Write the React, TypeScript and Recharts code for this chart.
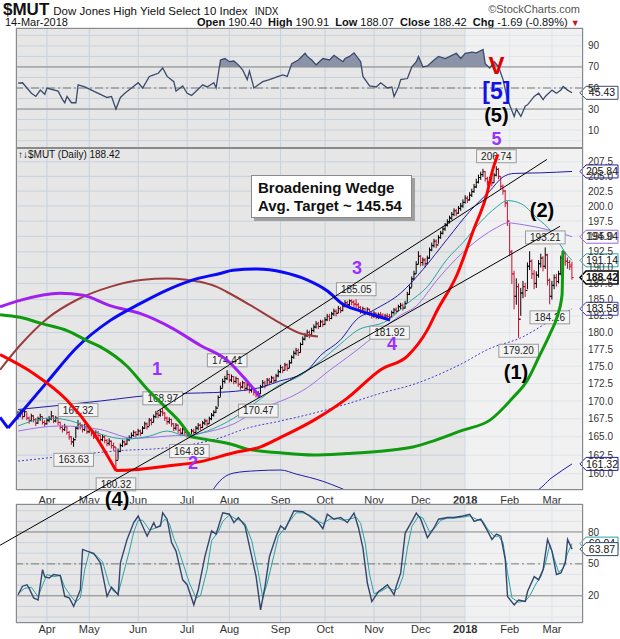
import React from 'react';
import {
  ComposedChart, Line, Area, Bar, XAxis, YAxis, CartesianGrid,
  ReferenceLine, ReferenceArea, ReferenceDot,
} from 'recharts';

const FONT = '"Liberation Sans", Arial, Helvetica, sans-serif';

// ---------- time axis (trading-day index, 0 = 15-Mar-2017) ----------
const MONTH_T = [13, 32, 54, 76, 95, 118, 138, 160, 181, 201, 221, 240];
const MONTH_LABELS = ['Apr', 'May', 'Jun', 'Jul', 'Aug', 'Sep', 'Oct', 'Nov', 'Dec', '2018', 'Feb', 'Mar'];
const YEAR_START_T = 201;
const X_PANEL: [number, number] = [-0.93, 253.93];
const X_OVER: [number, number] = [-8.13, 253.93];

// ---------- price (daily) ----------
const CLOSES = [
  168.0, 168.3, 167.8, 168.5, 167.6, 167.2, 167.9, 167.4, 166.9, 167.5,
  167.8, 167.0, 166.8, 167.3, 167.5, 167.9, 167.2, 167.6, 167.0, 166.3,
  166.0, 166.4, 165.6, 165.0, 164.3, 164.6, 166.2, 166.8, 166.5, 166.0,
  166.4, 165.7, 166.1, 165.5, 165.0, 165.6, 165.2, 164.6, 165.0, 164.5,
  164.1, 164.4, 163.8, 163.6, 161.8, 163.0, 163.8, 164.3, 164.0, 164.6,
  164.9, 165.2, 165.6, 165.3, 165.8, 165.5, 166.2, 166.8, 166.4, 167.3,
  167.0, 167.8, 168.2, 168.0, 168.5, 168.3, 167.6, 167.1, 167.4, 166.8,
  166.2, 166.6, 165.9, 165.5, 166.0, 165.6, 165.2, 165.3, 165.8, 165.6,
  166.2, 166.6, 166.3, 166.9, 167.2, 166.8, 167.5, 168.0, 168.4, 169.0,
  170.5, 171.8, 172.8, 173.2, 173.8, 173.0, 173.5, 172.8, 173.2, 172.4,
  172.0, 172.6, 171.8, 172.3, 171.5, 171.9, 171.2, 170.9, 171.0, 172.0,
  172.6, 172.2, 173.0, 172.7, 173.3, 172.9, 173.6, 174.2, 174.8, 174.4,
  175.2, 174.7, 175.5, 176.3, 176.9, 177.3, 177.0, 178.2, 179.0, 179.5,
  180.0, 179.6, 180.3, 180.8, 181.3, 180.9, 181.6, 181.2, 181.9, 182.4,
  182.1, 182.8, 183.2, 182.9, 183.6, 183.3, 184.0, 184.5, 184.2, 184.8,
  184.6, 184.3, 184.2, 183.8, 183.2, 183.6, 183.0, 183.5, 182.9, 182.5,
  182.9, 182.3, 182.7, 182.6, 182.2, 182.5, 182.4, 182.3, 183.0, 183.4,
  183.2, 183.9, 184.1, 183.7, 184.4, 185.8, 186.8, 188.2, 189.0, 190.5,
  191.8, 190.8, 191.2, 190.6, 191.5, 192.8, 193.5, 194.2, 193.6, 194.8,
  195.5, 196.2, 196.8, 197.4, 198.0, 198.6, 199.2, 198.8, 199.6, 200.0,
  200.6, 201.3, 201.0, 201.8, 202.4, 203.2, 204.0, 204.8, 205.3, 205.8,
  204.6, 204.0, 204.5, 203.9, 205.2, 206.2, 205.0, 203.3, 202.5, 200.5,
  197.5, 192.5, 189.0, 185.5, 187.0, 182.0, 186.0, 187.0, 186.4, 190.2,
  191.0, 189.0, 187.5, 188.8, 190.6, 191.5, 190.2, 192.0, 188.0, 185.5,
  187.2, 188.4, 187.8, 189.0, 191.5, 192.3, 191.0, 190.8, 190.11, 188.42,
];
const HIGHS = [
  168.6, 168.8, 168.5, 168.9, 168.4, 167.8, 168.2, 168.0, 167.6, 167.8,
  168.2, 167.9, 167.3, 167.6, 167.9, 168.6, 168.0, 167.9, 167.7, 167.1,
  166.6, 166.8, 166.5, 165.8, 165.1, 164.9, 166.5, 167.32, 167.0, 166.7,
  166.8, 166.5, 166.4, 166.2, 165.7, 165.9, 165.8, 165.3, 165.3, 165.2,
  164.7, 164.8, 164.5, 164.2, 163.6, 163.4, 164.1, 164.6, 164.5, 164.9,
  165.2, 165.6, 165.9, 165.8, 166.1, 166.0, 166.5, 167.1, 167.0, 167.6,
  167.6, 168.1, 168.6, 168.5, 168.8, 168.97, 168.4, 167.8, 167.7, 167.5,
  166.9, 166.9, 166.7, 166.2, 166.3, 166.2, 165.8, 165.6, 166.1, 166.1,
  166.5, 166.9, 166.8, 167.2, 167.5, 167.4, 167.8, 168.3, 168.7, 169.3,
  170.8, 172.2, 173.2, 173.6, 174.41, 173.9, 173.8, 173.6, 173.5, 173.3,
  172.7, 172.9, 172.7, 172.6, 172.4, 172.2, 172.0, 171.5, 171.4, 172.3,
  173.0, 172.9, 173.3, 173.3, 173.6, 173.5, 173.9, 174.5, 175.2, 175.0,
  175.5, 175.4, 175.9, 176.6, 177.3, 177.7, 177.6, 178.5, 179.4, 179.9,
  180.4, 180.3, 180.7, 181.2, 181.7, 181.6, 181.9, 181.9, 182.3, 182.8,
  182.8, 183.1, 183.6, 183.5, 184.0, 183.9, 184.3, 184.9, 184.8, 185.0,
  185.0, 184.9, 185.05, 184.5, 184.0, 183.9, 183.7, 183.8, 183.6, 183.2,
  183.2, 183.0, 183.0, 183.1, 182.9, 182.8, 182.9, 182.8, 183.3, 183.7,
  183.8, 184.2, 184.5, 184.4, 184.8, 186.2, 187.2, 188.6, 189.5, 191.0,
  192.6, 192.0, 191.6, 191.5, 191.9, 193.2, 194.0, 194.6, 194.5, 195.2,
  195.9, 196.6, 197.2, 197.8, 198.4, 199.0, 199.6, 199.5, 200.0, 200.5,
  201.1, 201.8, 201.7, 202.3, 202.9, 203.7, 204.6, 205.3, 205.8, 206.3,
  205.9, 204.9, 204.9, 204.8, 205.6, 206.74, 206.4, 205.0, 203.6, 202.7,
  200.8, 197.2, 192.8, 189.5, 188.3, 187.5, 186.8, 187.9, 187.6, 190.8,
  192.6, 191.3, 189.6, 189.4, 191.2, 192.2, 191.8, 193.21, 192.2, 188.3,
  187.9, 188.9, 189.0, 189.5, 191.9, 192.8, 192.5, 191.6, 191.2, 190.91,
];
const LOWS = [
  167.4, 167.7, 167.4, 167.8, 167.3, 166.8, 167.1, 167.0, 166.5, 166.8,
  167.2, 166.7, 166.4, 166.7, 167.0, 167.3, 166.9, 167.0, 166.6, 166.0,
  165.6, 165.8, 165.3, 164.6, 163.9, 163.63, 164.8, 166.0, 166.0, 165.6,
  165.8, 165.4, 165.5, 165.1, 164.7, 164.9, 164.8, 164.3, 164.4, 164.1,
  163.7, 163.8, 163.4, 163.1, 160.32, 161.9, 162.9, 163.6, 163.7, 163.9,
  164.4, 164.7, 165.0, 164.9, 165.2, 165.1, 165.4, 166.1, 166.0, 166.5,
  166.6, 167.0, 167.6, 167.6, 167.8, 167.9, 167.2, 166.7, 166.8, 166.4,
  165.8, 165.9, 165.5, 165.1, 165.3, 165.2, 164.9, 164.83, 165.1, 165.2,
  165.5, 165.9, 165.9, 166.2, 166.6, 166.4, 166.8, 167.3, 167.8, 168.3,
  169.2, 170.6, 171.9, 172.5, 173.0, 172.6, 172.7, 172.4, 172.5, 172.0,
  171.6, 171.8, 171.4, 171.5, 171.1, 171.2, 170.8, 170.5, 170.47, 171.0,
  171.9, 171.8, 172.2, 172.3, 172.6, 172.5, 172.8, 173.4, 174.0, 174.0,
  174.4, 174.3, 174.7, 175.4, 176.1, 176.6, 176.5, 177.0, 178.1, 178.8,
  179.3, 179.1, 179.5, 180.0, 180.6, 180.5, 180.8, 180.8, 181.1, 181.7,
  181.7, 182.0, 182.5, 182.4, 182.9, 182.9, 183.2, 183.8, 183.8, 184.0,
  184.1, 183.8, 183.7, 183.4, 182.8, 182.9, 182.6, 182.8, 182.5, 182.1,
  182.2, 182.0, 182.0, 182.1, 182.0, 182.0, 182.0, 181.92, 182.2, 182.7,
  182.8, 183.1, 183.5, 183.3, 183.6, 184.5, 185.7, 186.9, 188.0, 189.0,
  190.5, 190.2, 190.3, 190.0, 190.5, 191.4, 192.6, 193.2, 193.1, 193.8,
  194.6, 195.3, 195.9, 196.6, 197.1, 197.7, 198.3, 198.3, 198.7, 199.2,
  199.7, 200.4, 200.5, 200.9, 201.5, 202.2, 203.0, 203.8, 204.4, 204.9,
  204.1, 203.4, 203.6, 203.3, 203.9, 205.0, 204.5, 202.8, 201.9, 199.8,
  196.7, 191.8, 187.4, 183.5, 184.2, 179.2, 182.5, 185.2, 185.4, 186.6,
  189.6, 188.2, 186.6, 186.8, 188.4, 190.0, 189.4, 189.8, 187.2, 184.26,
  185.0, 186.6, 187.0, 187.5, 188.8, 190.8, 190.3, 189.8, 189.6, 188.07,
];
const LAST_OPEN = 190.4;

// ---------- overlays on price ----------
const MA_TEAL = [[0,166.5],[14,167.6],[27,166.9],[37,165.4],[49,164.7],[59,165.1],[67,165.8],[76,165.1],[85,165.8],[97,167.6],[109,170.3],[118,172.4],[125,173.3],[136,175.8],[145,178.3],[152,180.2],[166,181.8],[175,184.4],[184,187],[193,191.4],[200,194],[208,197.4],[215,199.8],[220,200.9],[226,200.4],[233,198.1],[240,195.7],[247,191.9],[249,191.14]];
const MA_PURPLE = [[0,165.8],[19,166.5],[37,166.0],[52,164.8],[67,165.1],[82,165.5],[97,166.8],[107,168.6],[115,169.6],[122,170.5],[130,171.9],[140,174.4],[148,176.3],[157,178.6],[163,180.3],[172,182.6],[179,184.0],[188,187.9],[197,191.4],[208,194.8],[215,196.4],[220,197.2],[227,196.9],[238,196.1],[249,194.94]];
const MA_DOTTED = [[0,161.7],[22,162.4],[45,163.1],[67,163.5],[89,164.7],[103,166.2],[118,167.2],[133,168.3],[148,169.6],[163,171.1],[178,172.4],[199,175.3],[212,177.6],[226,179.2],[238,181.5],[249,183.58]];
const BAND_UPPER = [[0,168.8],[37,170.0],[59,170.8],[76,171.1],[88,171.2],[101,171.5],[110,172.0],[118,172.9],[122,173.2],[130,174.4],[136,176.6],[145,178.9],[152,181.9],[160,183.4],[172,186.0],[182,189.7],[193,194.6],[203,199.1],[212,202.5],[218,204.9],[223,205.5],[235,205.6],[249,205.84]];
const BAND_LOWER = [[82,155.1],[92,159.4],[97,160.1],[107,160.4],[118,160.5],[125,159.96],[137,159.0],[145,158.1],[154,157.0],[232,157.7],[240,159.5],[249,161.32]];

// hand-drawn arcs (trading day, price)
const ARC_RED_A = [[-8.1,176.6],[6.7,173.9],[22,170.0],[33.7,165.5],[44,160.3]];
const ARC_RED_B = [[44,160.3],[52,160.4],[67,160.9],[82,161.5],[97,162.7],[109,163.5],[118,164.8],[133,167.2],[148,170.3],[163,174.4],[175,176.4],[184,180.3],[188.3,183.2],[197.3,188.8],[204.5,195.8],[210.8,202.1],[213.5,206.3],[215.7,208.8]];
const ARC_GREEN_A = [[-8.1,182.6],[0.9,182.2],[11.2,181.2],[22,180.2],[31,178.7],[36.8,177.8],[49,174.9],[58,171.6],[66.9,168.8],[72.8,166.9],[77.5,164.9]];
const ARC_GREEN_B = [[77.5,164.9],[85,164.5],[96.6,163.8],[103,163.2],[117.7,162.7],[132.6,162.4],[147.8,162.6],[162.7,162.9],[177.5,163.5],[200,165.8],[212.1,167.2],[222.5,170.4],[228.8,172.8],[234.6,176.6],[239.1,179.7],[242.2,182.2],[244.5,185.6],[244.9,192.6]];
const ARC_PURPLE = [[-8.1,183.8],[0.9,184.8],[18.8,185.9],[29.2,185.6],[41.3,184.0],[54.8,182.8],[69.6,180.5],[81.8,178.0],[93.9,175.8],[101.1,173.4],[108.7,170.5]];
const ARC_BROWN = [[-8.1,174.4],[0.9,178.0],[13,182.0],[26.5,184.9],[41.3,186.9],[56.2,188.0],[66.9,188.2],[75.9,188.0],[81.8,187.7],[89.4,186.9],[93.9,186.1],[104.2,184.1],[116.4,181.6],[126.7,179.8],[134.8,179.3]];
const ARC_BLUE_A = [[-8.1,167.6],[-4.5,166.1]];
const ARC_BLUE_B = [[-4.5,166.1],[13,172.6],[26.5,177.7],[41.3,181.7],[54.8,184.3],[66.9,186.4],[78.6,188.0],[90.8,189.0],[96.6,189.5],[107.4,189.7],[119.1,189.2],[129.9,188.0],[138.9,186.3],[146.1,184.2],[153.7,183.2],[161.3,182.4],[167.2,181.8]];

const TREND_UPPER = [[62.4,168.4],[237.7,207.9]];
const TREND_LOWER = [[-8.1,150.6],[243.6,196.6]];

const PIVOTS = [
  { t: 27, p: 167.32, dir: 'up' }, { t: 25, p: 163.63, dir: 'down' },
  { t: 44, p: 160.32, dir: 'down' }, { t: 65, p: 168.97, dir: 'up' },
  { t: 77, p: 164.83, dir: 'down' }, { t: 94, p: 174.41, dir: 'up' },
  { t: 108, p: 170.47, dir: 'down' }, { t: 152, p: 185.05, dir: 'up' },
  { t: 167, p: 181.92, dir: 'down' }, { t: 215, p: 206.74, dir: 'up' },
  { t: 225, p: 179.2, dir: 'down' }, { t: 237, p: 193.21, dir: 'up' },
  { t: 239, p: 184.26, dir: 'down' },
];

const MAIN_WAVES = [
  { t: 62.4, v: 174.6, text: '1', kind: 'purple' },
  { t: 78.6, v: 161.4, text: '2', kind: 'purple' },
  { t: 152.3, v: 189.9, text: '3', kind: 'purple' },
  { t: 168.1, v: 178.3, text: '4', kind: 'purple' },
  { t: 223.8, v: 174.1, text: '(1)', kind: 'black' },
  { t: 235.5, v: 199.3, text: '(2)', kind: 'black' },
  { t: 44.5, v: 156.6, text: '(4)', kind: 'black' },
];
const RSI_WAVES = [
  { t: 215, v: 70.9, text: 'V', kind: 'red' },
  { t: 215, v: 47.2, text: '[5]', kind: 'blue' },
  { t: 215, v: 24.4, text: '(5)', kind: 'black' },
  { t: 215, v: 1.5, text: '5', kind: 'purple' },
];

const PRICE_TICKS = [160, 162.5, 165, 167.5, 170, 172.5, 175, 177.5, 180, 182.5, 185, 187.5, 190, 192.5, 195, 197.5, 200, 202.5, 205, 207.5];
const PRICE_DOMAIN: [number, number] = [157.85, 209.9];
const PRICE_TAGS = [
  { v: 205.84, color: '#1c1ca8' }, { v: 194.94, color: '#9966dd' },
  { v: 191.14, color: '#2aa3a3' }, { v: 188.42, color: '#000000', bold: true },
  { v: 183.58, color: '#3a3acc' }, { v: 161.32, color: '#1c1ca8' },
];

// ---------- RSI ----------
const RSI = [[0,54.7],[2,55],[4,50],[6,45],[8,42],[10,48],[12,44],[13,50],[18,47],[20,39],[21,36],[22,42],[24,36],[26,36],[27,53],[30,51],[33,48],[37,44],[40,41],[42,42],[44,30],[46,41],[48,45],[51,50],[54,55],[56,50],[59,61],[61,62.5],[63,64],[65,69],[67,61],[70,56],[71,47],[74,52],[76,45],[78,43],[80,47],[83,53],[85,51],[88,55],[89,50],[91,76.6],[93,78],[95,75],[97,75.6],[99,72],[101,67],[103,58],[104,66],[106,50],[108,53],[110,56],[113,58],[117,61],[119,62.5],[121,61],[123,73],[126,76.6],[129,83],[130,80],[132,76.6],[134,72],[137,78],[140,76.6],[142,81],[146,75],[147,78],[149,80],[151,83.4],[154,75],[155,61],[158,52],[161,51],[163,55],[166,50],[168,51],[169,42],[171,51],[172,58],[175,59],[177,70],[179,75],[180,80],[182,70],[184,71],[187,76.6],[189,80],[192,78],[195,81],[197,83],[199,78],[201,83],[204,84],[206,83.4],[209,86.6],[210,73],[212,69],[214,75],[216,70],[218,58],[220,39],[223,23],[224,30],[226,23],[228,33],[229,34],[232,42],[234,45],[236,39],[237,42],[240,48],[242,45],[244,48],[245,51.5],[247,48],[249,45.43]];
const RSI_DOMAIN: [number, number] = [-7, 107];
const RSI_TICKS = [0, 10, 20, 30, 40, 50, 60, 70, 80, 90, 100];
const RSI_LABELLED = [10, 30, 50, 70, 90];

// ---------- Slow stochastics ----------
const STO_K = [[0,21],[2,29],[4,30.4],[5,27],[7,18],[9,16],[11,44.6],[12,37.7],[14,36.7],[16,40],[19,39],[21,19.4],[23,18],[25,10],[28,25.7],[29,63.6],[31,62],[34,60],[36,54],[37,51],[40,19.4],[42,28],[45,21],[46,51],[49,73],[52,88.8],[54,95],[55,90],[58,76],[61,88.8],[62,84],[64,85.7],[65,98],[67,92],[69,70],[71,62],[74,35],[76,30.4],[79,11.5],[81,25.7],[84,57],[87,81],[89,78],[92,98],[95,96.7],[97,88.8],[99,93.6],[102,85.7],[104,66.7],[107,38],[109,6.7],[111,28.8],[113,57],[116,76],[118,85.7],[120,82.5],[124,99.9],[128,99],[131,95],[135,88.8],[137,83],[139,96.7],[142,92],[145,93.6],[148,88.8],[151,97.7],[153,84],[155,65],[157,32],[159,14.6],[162,24],[164,27],[166,30.4],[169,21],[170,29],[172,41.5],[174,79],[177,90],[179,97.7],[181,92],[184,74.6],[187,84],[189,92],[193,93.6],[196,93.6],[200,95],[203,96.7],[205,90],[208,92],[211,81],[213,73],[215,78],[217,76],[219,54],[220,19.4],[223,11.5],[225,16],[228,14.6],[229,24],[232,38],[234,35],[236,44.6],[238,73],[240,62],[242,40],[244,41.5],[246,51],[247,73],[249,63.87]];
const STO_D = [[0,22],[3,27],[6,28],[9,19],[11,30],[13,40],[16,38],[19,39],[21,28],[24,19],[26,14],[28,18],[30,45],[32,61],[35,58],[38,52],[41,30],[43,24],[45,22],[47,38],[50,62],[52,80],[54,91],[56,91],[59,82],[61,83],[63,85],[66,92],[68,88],[70,74],[72,64],[75,45],[77,32],[80,18],[82,20],[85,45],[87,72],[90,80],[92,90],[95,96],[98,92],[100,91],[102,88],[105,72],[108,42],[110,18],[112,32],[115,58],[117,76],[120,84],[122,90],[125,98],[128,98],[131,96],[135,90],[137,88],[140,92],[143,93],[146,91],[149,92],[152,94],[154,88],[156,70],[158,40],[160,22],[163,24],[166,28],[169,25],[171,27],[173,38],[175,65],[177,85],[180,95],[182,93],[185,80],[187,83],[190,91],[193,93],[196,93],[200,94],[203,95],[206,92],[209,90],[211,83],[214,76],[216,76],[218,70],[220,42],[222,18],[225,14],[228,15],[230,20],[233,32],[235,38],[237,50],[239,68],[241,55],[243,42],[245,46],[247,60],[249,69.04]];
const STO_DOMAIN: [number, number] = [-5.6, 106.3];
const STO_TICKS = [0, 10, 20, 30, 40, 50, 60, 70, 80, 90, 100];
const STO_LABELLED = [20, 50, 80];

// ---------- helpers ----------
const pts = (arr: number[][]) => arr.map(([t, v]) => ({ t, v }));

const bars = CLOSES.map((c, i) => ({
  t: i,
  close: c,
  high: HIGHS[i],
  low: LOWS[i],
  open: i === CLOSES.length - 1 ? LAST_OPEN : i > 0 ? CLOSES[i - 1] : c,
  up: i === 0 ? true : c >= CLOSES[i - 1],
}));

const GRID = '#c6d1dd';
const BG = '#e6e6e6';
const AX_TICK = { fontSize: 10, fill: '#333', fontFamily: FONT };

const WAVE_STYLE: Record<string, { fill: string; size: number }> = {
  purple: { fill: '#9b30ff', size: 18 },
  black: { fill: '#000000', size: 20 },
  red: { fill: '#e00000', size: 24 },
  blue: { fill: '#1212e6', size: 23 },
};

function OhlcBar(props: any) {
  const { x, y, width, height, payload } = props;
  if (x == null || y == null || !payload) return null;
  const cx = x + width / 2;
  const top = Math.min(y, y + height);
  const h = Math.abs(height);
  const lnH = Math.log(payload.high);
  const lnL = Math.log(payload.low);
  const span = lnH - lnL || 1;
  const yAt = (v: number) => top + (h * (lnH - Math.log(v))) / span;
  const color = payload.up ? '#000000' : '#c8102e';
  return (
    <g stroke={color} strokeWidth={1}>
      <line x1={cx} x2={cx} y1={top} y2={top + h} />
      <line x1={cx - 1.8} x2={cx} y1={yAt(payload.open)} y2={yAt(payload.open)} />
      <line x1={cx} x2={cx + 1.8} y1={yAt(payload.close)} y2={yAt(payload.close)} />
    </g>
  );
}

function Tag({ cx, cy, text, color, bold }: any) {
  const x0 = cx + 3;
  const w = 32;
  const h = 13;
  return (
    <g>
      <polygon
        points={`${cx - 3},${cy} ${x0},${cy - h / 2} ${x0 + w},${cy - h / 2} ${x0 + w},${cy + h / 2} ${x0},${cy + h / 2}`}
        fill="#ffffff" stroke={color} strokeWidth={bold ? 1.5 : 1}
      />
      <text x={x0 + w / 2} y={cy} dy="0.35em" textAnchor="middle" fontSize={10.5} fontFamily={FONT}
        fontWeight={bold ? 'bold' : 'normal'} fill="#111">{text}</text>
    </g>
  );
}

function Pivot({ cx, cy, text, dir }: any) {
  const w = text.length * 5.6 + 6;
  const h = 13;
  const by = dir === 'up' ? cy - 10 - h / 2 : cy + 13 - h / 2;
  return (
    <g>
      <rect x={cx - w / 2} y={by} width={w} height={h} fill="#f3f3f3" stroke="#9a9a9a" />
      <text x={cx} y={by + h / 2} dy="0.35em" textAnchor="middle" fontSize={10} fontFamily={FONT} fill="#222">{text}</text>
    </g>
  );
}

function Wave({ cx, cy, text, kind }: any) {
  const s = WAVE_STYLE[kind];
  return (
    <text x={cx} y={cy} dy="0.35em" textAnchor="middle" fontSize={s.size} fontWeight="bold" fontFamily={FONT} fill={s.fill}>
      {text}
    </text>
  );
}

function MonthTick(props: any) {
  const { x, y, payload } = props;
  const i = MONTH_T.indexOf(payload.value);
  const lbl = i >= 0 ? MONTH_LABELS[i] : '';
  return (
    <text x={x} y={y} dy="0.71em" textAnchor="middle" fontSize={11} fontFamily={FONT}
      fontWeight={lbl === '2018' ? 'bold' : 'normal'} fill="#333">{lbl}</text>
  );
}

const RSI_H = 150;
const RSI_TOP = 28;
const RSI_PLOT_H = 120;
const RSI_70_OFF = (RSI_TOP + ((RSI_DOMAIN[1] - 70) / (RSI_DOMAIN[1] - RSI_DOMAIN[0])) * RSI_PLOT_H) / RSI_H;

const abs = (left: number, top: number): React.CSSProperties => ({ position: 'absolute', left, top });

export default function App() {
  const rsiData = pts(RSI);
  return (
    <div style={{ position: 'absolute', left: 0, top: 0, width: 620, height: 639, background: '#fff', overflow: 'hidden', fontFamily: FONT }}>
      {/* header */}
      <div style={{ ...abs(3, 0), whiteSpace: 'nowrap', display: 'flex', alignItems: 'baseline', color: '#111' }}>
        <span style={{ fontSize: 17, fontWeight: 'bold' }}>$MUT</span>
        <span style={{ fontSize: 11.5, marginLeft: 4 }}>Dow Jones High Yield Select 10 Index</span>
        <span style={{ fontSize: 10, marginLeft: 7 }}>INDX</span>
      </div>
      <div style={{ position: 'absolute', right: 40, top: 3, fontSize: 11, color: '#555', whiteSpace: 'nowrap' }}>©StockCharts.com</div>
      <div style={{ ...abs(5, 16), fontSize: 11, color: '#111', whiteSpace: 'nowrap' }}>14-Mar-2018</div>
      <div style={{ ...abs(197, 16), fontSize: 11, color: '#111', whiteSpace: 'nowrap' }}>
        <b>Open</b> 190.40&nbsp;&nbsp;<b>High</b> 190.91&nbsp;&nbsp;<b>Low</b> 188.07&nbsp;&nbsp;<b>Close</b> 188.42&nbsp;&nbsp;<b>Chg</b> -1.69 (-0.89%) <span style={{ color: '#c8102e', fontSize: 9 }}>▼</span>
      </div>

      {/* RSI panel */}
      <div style={abs(0, 0)}>
        <ComposedChart width={620} height={RSI_H} data={rsiData} margin={{ top: RSI_TOP, right: 0, bottom: 2, left: 16 }}>
          <defs>
            <linearGradient id="rsiFill" gradientUnits="userSpaceOnUse" x1="0" y1="0" x2="0" y2={RSI_H}>
              <stop offset={RSI_70_OFF} stopColor="#8a93a7" stopOpacity={1} />
              <stop offset={RSI_70_OFF} stopColor="#8a93a7" stopOpacity={0} />
            </linearGradient>
          </defs>
          <CartesianGrid stroke={GRID} fill={BG} fillOpacity={1} />
          <ReferenceArea x1={YEAR_START_T} x2={X_PANEL[1]} fill="#ffffff" fillOpacity={0.45} stroke="none" ifOverflow="hidden" />
          <XAxis type="number" dataKey="t" domain={X_PANEL} allowDataOverflow ticks={MONTH_T} hide />
          <YAxis orientation="right" domain={RSI_DOMAIN} allowDataOverflow ticks={RSI_TICKS} interval={0}
            tickFormatter={(v: number) => (RSI_LABELLED.includes(v) ? String(v) : '')}
            width={37} tickSize={0} tickMargin={5} axisLine={false} tickLine={false} tick={AX_TICK} />
          <ReferenceLine y={70} stroke="#8a8a8a" />
          <ReferenceLine y={30} stroke="#8a8a8a" />
          <ReferenceLine y={50} stroke="#7a7a7a" strokeDasharray="8 3 2 3" />
          <Area dataKey="v" type="linear" baseValue={70} fill="url(#rsiFill)" fillOpacity={1} stroke="none" isAnimationActive={false} />
          <Line dataKey="v" type="linear" stroke="#3b4a6b" strokeWidth={1.3} dot={false} isAnimationActive={false} />
          <ReferenceDot x={X_PANEL[1]} y={45.43} r={1} ifOverflow="visible"
            shape={(p: any) => <Tag cx={p.cx} cy={p.cy} text="45.43" color="#3b4a6b" />} />
          {RSI_WAVES.map((w, i) => (
            <ReferenceDot key={i} x={w.t} y={w.v} r={1} ifOverflow="visible"
              shape={(p: any) => <Wave cx={p.cx} cy={p.cy} text={w.text} kind={w.kind} />} />
          ))}
        </ComposedChart>
      </div>

      {/* main price panel */}
      <div style={abs(0, 140)}>
        <ComposedChart width={620} height={370} data={bars} margin={{ top: 8, right: 0, bottom: 4, left: 16 }}>
          <CartesianGrid stroke={GRID} fill={BG} fillOpacity={1} />
          <ReferenceArea x1={YEAR_START_T} x2={X_PANEL[1]} fill="#ffffff" fillOpacity={0.45} stroke="none" ifOverflow="hidden" />
          <XAxis type="number" dataKey="t" domain={X_PANEL} allowDataOverflow ticks={MONTH_T} interval={0}
            tick={<MonthTick />} height={16} tickSize={0} tickMargin={6} axisLine={false} tickLine={false} />
          <YAxis orientation="right" scale="log" domain={PRICE_DOMAIN} allowDataOverflow ticks={PRICE_TICKS} interval={0}
            tickFormatter={(v: number) => v.toFixed(1)}
            width={37} tickSize={0} tickMargin={5} axisLine={false} tickLine={false} tick={AX_TICK} />
          <Line data={pts(BAND_UPPER)} dataKey="v" type="monotone" stroke="#1c1ca8" strokeWidth={1} dot={false} isAnimationActive={false} />
          <Line data={pts(BAND_LOWER)} dataKey="v" type="monotone" stroke="#1c1ca8" strokeWidth={1} dot={false} isAnimationActive={false} />
          <Line data={pts(MA_DOTTED)} dataKey="v" type="monotone" stroke="#4a3ad0" strokeWidth={1} strokeDasharray="2 2" dot={false} isAnimationActive={false} />
          <Line data={pts(MA_PURPLE)} dataKey="v" type="monotone" stroke="#a070e8" strokeWidth={1} dot={false} isAnimationActive={false} />
          <Line data={pts(MA_TEAL)} dataKey="v" type="monotone" stroke="#2aa3a3" strokeWidth={1} dot={false} isAnimationActive={false} />
          <Bar dataKey={(d: any) => [d.low, d.high]} barSize={2} isAnimationActive={false}
            shape={(p: any) => <OhlcBar {...p} />} />
          {PIVOTS.map((pv, i) => (
            <ReferenceDot key={i} x={pv.t} y={pv.p} r={1} ifOverflow="visible"
              shape={(p: any) => <Pivot cx={p.cx} cy={p.cy} text={pv.p.toFixed(2)} dir={pv.dir} />} />
          ))}
          {PRICE_TAGS.map((tg, i) => (
            <ReferenceDot key={i} x={X_PANEL[1]} y={tg.v} r={1} ifOverflow="visible"
              shape={(p: any) => <Tag cx={p.cx} cy={p.cy} text={tg.v.toFixed(2)} color={tg.color} bold={tg.bold} />} />
          ))}
        </ComposedChart>
      </div>

      {/* stochastic panel */}
      <div style={abs(0, 495)}>
        <ComposedChart width={620} height={144} margin={{ top: 9, right: 0, bottom: 2, left: 16 }}>
          <CartesianGrid stroke={GRID} fill={BG} fillOpacity={1} />
          <ReferenceArea x1={YEAR_START_T} x2={X_PANEL[1]} fill="#ffffff" fillOpacity={0.45} stroke="none" ifOverflow="hidden" />
          <XAxis type="number" dataKey="t" domain={X_PANEL} allowDataOverflow ticks={MONTH_T} interval={0}
            tick={<MonthTick />} height={14} tickSize={0} tickMargin={2} axisLine={false} tickLine={false} />
          <YAxis orientation="right" domain={STO_DOMAIN} allowDataOverflow ticks={STO_TICKS} interval={0}
            tickFormatter={(v: number) => (STO_LABELLED.includes(v) ? String(v) : '')}
            width={37} tickSize={0} tickMargin={5} axisLine={false} tickLine={false} tick={AX_TICK} />
          <ReferenceLine y={80} stroke="#8a8a8a" />
          <ReferenceLine y={20} stroke="#8a8a8a" />
          <ReferenceLine y={50} stroke="#7a7a7a" strokeDasharray="8 3 2 3" />
          <Line data={pts(STO_D)} dataKey="v" type="linear" stroke="#2aa3a3" strokeWidth={1} dot={false} isAnimationActive={false} />
          <Line data={pts(STO_K)} dataKey="v" type="linear" stroke="#34466e" strokeWidth={1.4} dot={false} isAnimationActive={false} />
          <ReferenceDot x={X_PANEL[1]} y={69.04} r={1} ifOverflow="visible"
            shape={(p: any) => <Tag cx={p.cx} cy={p.cy} text="69.04" color="#2aa3a3" />} />
          <ReferenceDot x={X_PANEL[1]} y={63.87} r={1} ifOverflow="visible"
            shape={(p: any) => <Tag cx={p.cx} cy={p.cy} text="63.87" color="#34466e" />} />
        </ComposedChart>
      </div>

      {/* panel borders */}
      <div style={{ ...abs(16, 28), width: 567, height: 120, border: '1px solid #8a8a8a', boxSizing: 'border-box' }} />
      <div style={{ ...abs(16, 148), width: 567, height: 342, border: '1px solid #8a8a8a', boxSizing: 'border-box' }} />
      <div style={{ ...abs(16, 504), width: 567, height: 119, border: '1px solid #8a8a8a', boxSizing: 'border-box' }} />

      <div style={{ ...abs(18, 149), fontSize: 10, color: '#111', whiteSpace: 'nowrap' }}>↑↓$MUT (Daily) 188.42</div>

      {/* overlay: hand-drawn arcs, trendlines, wave counts */}
      <div style={abs(0, 0)}>
        <ComposedChart width={620} height={639} margin={{ top: 148, right: 37, bottom: 150, left: 0 }}>
          <XAxis type="number" dataKey="t" domain={X_OVER} allowDataOverflow hide />
          <YAxis scale="log" domain={PRICE_DOMAIN} allowDataOverflow hide />
          <Line data={pts(ARC_BROWN)} dataKey="v" type="monotone" stroke="#9c3c3c" strokeWidth={2} dot={false} isAnimationActive={false} />
          <Line data={pts(ARC_PURPLE)} dataKey="v" type="monotone" stroke="#a020f0" strokeWidth={3} dot={false} isAnimationActive={false} />
          <Line data={pts(ARC_BLUE_A)} dataKey="v" type="linear" stroke="#0a0af5" strokeWidth={3} dot={false} isAnimationActive={false} />
          <Line data={pts(ARC_BLUE_B)} dataKey="v" type="monotone" stroke="#0a0af5" strokeWidth={3} dot={false} isAnimationActive={false} />
          <Line data={pts(ARC_GREEN_A)} dataKey="v" type="monotone" stroke="#0f9a0f" strokeWidth={3} dot={false} isAnimationActive={false} />
          <Line data={pts(ARC_GREEN_B)} dataKey="v" type="monotone" stroke="#0f9a0f" strokeWidth={3} dot={false} isAnimationActive={false} />
          <Line data={pts(ARC_RED_A)} dataKey="v" type="monotone" stroke="#ff0000" strokeWidth={3} dot={false} isAnimationActive={false} />
          <Line data={pts(ARC_RED_B)} dataKey="v" type="monotone" stroke="#ff0000" strokeWidth={3} dot={false} isAnimationActive={false} />
          <ReferenceLine segment={[{ x: TREND_UPPER[0][0], y: TREND_UPPER[0][1] }, { x: TREND_UPPER[1][0], y: TREND_UPPER[1][1] }]}
            stroke="#000" strokeWidth={1} ifOverflow="visible" />
          <ReferenceLine segment={[{ x: TREND_LOWER[0][0], y: TREND_LOWER[0][1] }, { x: TREND_LOWER[1][0], y: TREND_LOWER[1][1] }]}
            stroke="#000" strokeWidth={1} ifOverflow="visible" />
          {MAIN_WAVES.map((w, i) => (
            <ReferenceDot key={i} x={w.t} y={w.v} r={1} ifOverflow="visible"
              shape={(p: any) => <Wave cx={p.cx} cy={p.cy} text={w.text} kind={w.kind} />} />
          ))}
        </ComposedChart>
      </div>

      <div style={{ ...abs(251, 175), width: 161, height: 43, background: '#fff', border: '1px solid #8a8a8a', boxSizing: 'border-box',
        boxShadow: '3px 3px 0 #a0a0a0', padding: '3px 0 0 6px', fontWeight: 'bold', fontSize: 15, lineHeight: '18px', color: '#111', whiteSpace: 'nowrap' }}>
        Broadening Wedge<br />Avg. Target ~ 145.54
      </div>
    </div>
  );
}
